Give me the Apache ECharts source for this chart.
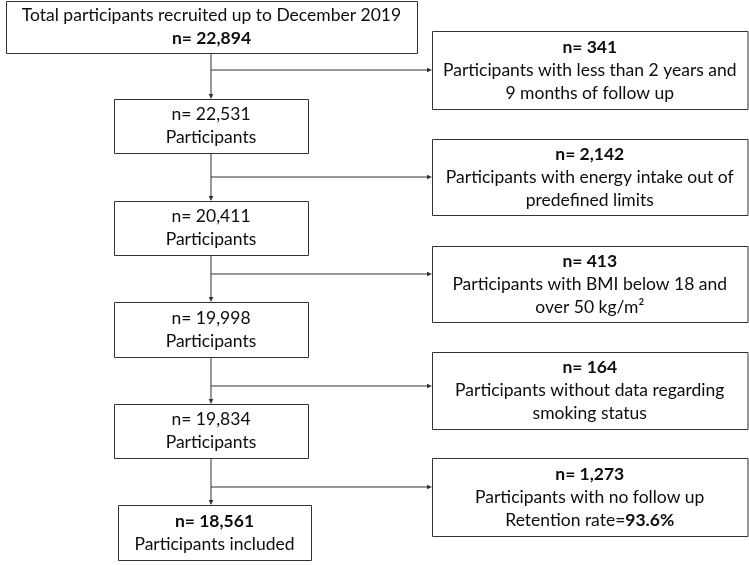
<!DOCTYPE html>
<html>
<head>
<meta charset="utf-8">
<script src="https://cdn.jsdelivr.net/npm/echarts@6/dist/echarts.min.js"></script>
<style>
  html, body { margin: 0; padding: 0; background: #fff; }
  #chart { width: 749px; height: 565px; }
</style>
</head>
<body>
<div id="chart"></div>
<script>
// flow steps (left column)
const mainCounts = [22894, 22531, 20411, 19998, 19834, 18561]
const mainLabels = [
  'Total participants recruited up to December 2019',
  'Participants',
  'Participants',
  'Participants',
  'Participants',
  'Participants included',
]
// exclusions (right column)
const excludedCounts = [341, 2142, 413, 164, 1273]
const excludedLabels = [
  ['Participants with less than 2 years and', '9 months of follow up'],
  ['Participants with energy intake out of', 'predefined limits'],
  ['Participants with BMI below 18 and', 'over 50 kg/m\u00b2'],
  ['Participants without data regarding', 'smoking status'],
  ['Participants with no follow up', 'Retention rate='],
]
const retentionRate = '93.6%'

// layout, in the same units as the hidden axes (0..749 x 0..565)
const leftBoxes = [
  [6, 1, 417, 53],
  [114, 99, 308, 153],
  [114, 201, 308, 255],
  [114, 302, 308, 357],
  [114, 404, 308, 458],
  [118, 505, 311, 560],
]
const rightX = [432, 747.5]
const rightY = [[31, 109], [139, 215], [246, 322], [352, 429], [458, 536]]
const trunkX = 211
const branchY = [70, 177, 274, 386, 487]

const FONT = 'Lato, "Open Sans", sans-serif'
const SIZE = 17.5
const LH = 23
const INK = '#0d0d0d'
const EDGE = '#333'

const fmt = (n) => n.toLocaleString('en-US')

const tok = (weight) => ({
  fontFamily: FONT, fontSize: SIZE, fontWeight: weight, lineHeight: LH, color: INK,
})

function boxText(kind, i) {
  if (kind === 'main') {
    const n = '{' + (i === 0 || i === 5 ? 'b' : 'r') + '|n= ' + fmt(mainCounts[i]) + '}'
    return i === 0
      ? '{r|' + mainLabels[i] + '}\n' + n
      : n + '\n{r|' + mainLabels[i] + '}'
  }
  const lines = ['{b|n= ' + fmt(excludedCounts[i]) + '}']
  excludedLabels[i].forEach((l, k) => {
    let s = '{r|' + l + '}'
    if (i === excludedCounts.length - 1 && k === 1) s += '{b|' + retentionRate + '}'
    lines.push(s)
  })
  return lines.join('\n')
}

const boxData = [
  ...mainCounts.map((_, i) => ['main', i]),
  ...excludedCounts.map((_, i) => ['excl', i]),
]

const linkData = [
  ...mainCounts.slice(1).map((_, i) => ['down', i]),
  ...excludedCounts.map((_, i) => ['right', i]),
]

function arrow(api, from, to) {
  const a = api.coord(from)
  const b = api.coord(to)
  const dx = b[0] - a[0], dy = b[1] - a[1]
  const len = Math.hypot(dx, dy)
  const ux = dx / len, uy = dy / len
  const L = 5, W = 2.3
  const base = [b[0] - ux * L, b[1] - uy * L]
  return {
    type: 'group',
    children: [
      {
        type: 'line',
        shape: { x1: a[0], y1: a[1], x2: base[0], y2: base[1] },
        style: { stroke: EDGE, lineWidth: 1 },
      },
      {
        type: 'polygon',
        shape: {
          points: [
            b,
            [base[0] - uy * W, base[1] + ux * W],
            [base[0] + uy * W, base[1] - ux * W],
          ],
        },
        style: { fill: EDGE },
      },
    ],
  }
}

const chart = echarts.init(document.getElementById('chart'))

chart.setOption({
  animation: false,
  grid: { left: 0, right: 0, top: 0, bottom: 0 },
  xAxis: { type: 'value', min: 0, max: 749, show: false },
  yAxis: { type: 'value', min: 0, max: 565, inverse: true, show: false },
  series: [
    {
      type: 'custom',
      data: linkData,
      renderItem: (params, api) => {
        const [kind, i] = linkData[params.dataIndex]
        if (kind === 'down') {
          return arrow(api, [trunkX, leftBoxes[i][3]], [trunkX, leftBoxes[i + 1][1]])
        }
        return arrow(api, [trunkX, branchY[i]], [rightX[0], branchY[i]])
      },
    },
    {
      type: 'custom',
      data: boxData,
      renderItem: (params, api) => {
        const [kind, i] = boxData[params.dataIndex]
        const r = kind === 'main'
          ? leftBoxes[i]
          : [rightX[0], rightY[i][0], rightX[1], rightY[i][1]]
        const p0 = api.coord([r[0], r[1]])
        const p1 = api.coord([r[2], r[3]])
        return {
          type: 'group',
          children: [
            {
              type: 'rect',
              shape: { x: p0[0] + 0.5, y: p0[1] + 0.5, width: p1[0] - p0[0], height: p1[1] - p0[1] },
              style: { fill: '#fff', stroke: EDGE, lineWidth: 1 },
            },
            {
              type: 'text',
              x: (p0[0] + p1[0]) / 2,
              y: (p0[1] + p1[1]) / 2,
              style: {
                text: boxText(kind, i),
                align: 'center',
                verticalAlign: 'middle',
                fontFamily: FONT,
                fontSize: SIZE,
                lineHeight: LH,
                fill: INK,
                rich: { r: tok('normal'), b: tok('bold') },
              },
            },
          ],
        }
      },
    },
  ],
})
</script>
</body>
</html>
